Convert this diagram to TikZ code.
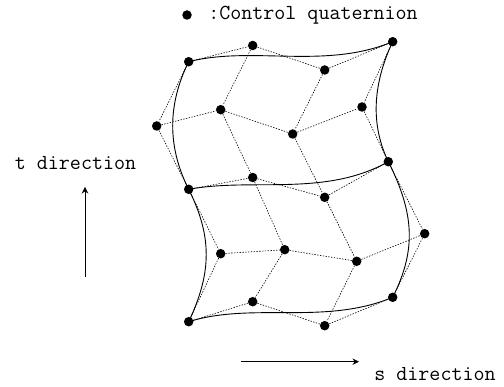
\documentclass[tikz,border=0pt]{standalone}
\usepackage{tikz}
\usetikzlibrary{arrows.meta,calc}

% span through one control point, #1 is the pull towards it
\newcommand{\spanthrough}[4]{(#2.center) .. controls ($(#2)!#1!(#3)$) and ($(#4)!#1!(#3)$) .. (#4.center)}

\begin{document}
\begin{tikzpicture}[
  x=1pt, y=-1pt,
  ctrl/.style={circle, fill=black, inner sep=0pt, minimum size=9.5pt},
  net/.style={line width=0.6pt, dash pattern=on 1.4pt off 1.4pt},
  patch/.style={line width=0.9pt},
  arrow/.style={-{Stealth[length=6.5pt,width=6.5pt]}, line width=0.8pt},
  label/.style={font=\fontsize{21.4}{22}\fontseries{l}\selectfont\ttfamily, inner sep=0pt}
]
\useasboundingbox (0,0) rectangle (504,387);
% control quaternions, row by row
\node[ctrl] (p00) at (188.7,61.7) {};
\node[ctrl] (p01) at (252.7,45.5) {};
\node[ctrl] (p02) at (324.7,70) {};
\node[ctrl] (p03) at (392.7,41.7) {};
\node[ctrl] (p10) at (156.7,126) {};
\node[ctrl] (p11) at (220.7,109.7) {};
\node[ctrl] (p12) at (292.7,134) {};
\node[ctrl] (p13) at (362,107) {};
\node[ctrl] (p20) at (188.7,189.3) {};
\node[ctrl] (p21) at (252.7,177.5) {};
\node[ctrl] (p22) at (324.7,197.3) {};
\node[ctrl] (p23) at (388.3,161.7) {};
\node[ctrl] (p30) at (220.7,253.7) {};
\node[ctrl] (p31) at (284.7,249.7) {};
\node[ctrl] (p32) at (356.7,261.3) {};
\node[ctrl] (p33) at (424.7,233.7) {};
\node[ctrl] (p40) at (188.7,321.7) {};
\node[ctrl] (p41) at (252.7,301.7) {};
\node[ctrl] (p42) at (324.7,325.7) {};
\node[ctrl] (p43) at (392.7,297.3) {};
% control net
\foreach \r in {0,...,4}
  \draw[net] (p\r0) -- (p\r1) -- (p\r2) -- (p\r3);
\foreach \c in {0,...,3}
  \draw[net] (p0\c) -- (p1\c) -- (p2\c) -- (p3\c) -- (p4\c);
% patch boundaries
\foreach \r in {0,2,4}
  \draw[patch] (p\r0.center) .. controls (p\r1) and (p\r2) .. (p\r3.center);
\draw[patch] \spanthrough{0.667}{p00}{p10}{p20};
\draw[patch] \spanthrough{0.73}{p20}{p30}{p40};
\draw[patch] \spanthrough{0.667}{p03}{p13}{p23};
\draw[patch] \spanthrough{0.73}{p23}{p33}{p43};
% legend and directions
\node[ctrl] (legend) at (187,15) {};
\node[label] (legendtext) at (313,15.6) {:Control quaternion};
\node[label] (ttext) at (75.5,163) {t direction};
\node[label] (stext) at (435,374) {s direction};
\coordinate (tstart) at (85,277);
\coordinate (tend) at (85,187);
\coordinate (sstart) at (241,361.7);
\coordinate (send) at (359,361.7);
\draw[arrow] (tstart) -- (tend);
\draw[arrow] (sstart) -- (send);
\end{tikzpicture}
\end{document}
